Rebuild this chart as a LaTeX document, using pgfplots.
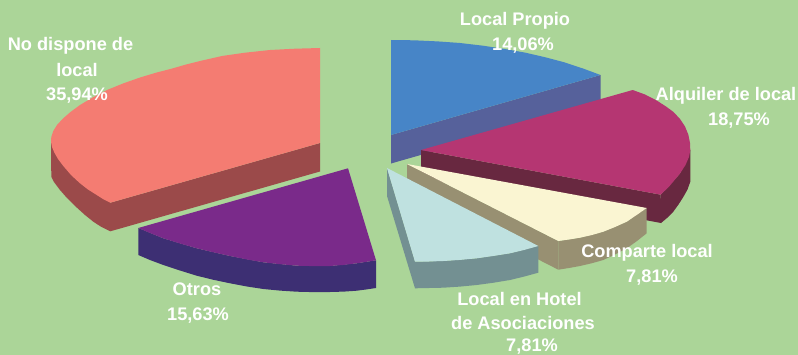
\documentclass[border=0pt]{standalone}
\usepackage{fontspec}
\setmainfont{Liberation Sans}
\usepackage{pgfplots}
\pgfplotsset{compat=1.18}
\definecolor{bg}{HTML}{ABD598}
\definecolor{salT}{HTML}{F47C72}
\definecolor{salS}{HTML}{9B4A4A}
\definecolor{bluT}{HTML}{4785C7}
\definecolor{bluS}{HTML}{56619B}
\definecolor{magT}{HTML}{B53672}
\definecolor{magS}{HTML}{682840}
\definecolor{creT}{HTML}{FAF5D2}
\definecolor{creS}{HTML}{989072}
\definecolor{teaT}{HTML}{BFE1E0}
\definecolor{teaS}{HTML}{739092}
\definecolor{purT}{HTML}{7A2A8A}
\definecolor{purS}{HTML}{3D2F73}
\tikzset{lab/.style={font=\fontsize{18.2bp}{20bp}\selectfont\bfseries,text=white,anchor=base,inner sep=0pt}}
\begin{document}
\begin{tikzpicture}
\path[use as bounding box] (0,0) rectangle (798bp,355bp);
\begin{axis}[at={(0,0)},anchor=south west,scale only axis,width=798bp,height=355bp,
  xmin=0,xmax=798,ymin=0,ymax=355,y dir=reverse,hide axis,clip=false,
  every axis plot/.append style={draw=none,mark=none}]
% background
\addplot[fill=bg] coordinates {(0,0)(798,0)(798,355)(0,355)} --cycle;
% No dispone de local
\addplot[fill=salS] coordinates {(320,143)(320,171.5)(110.3,231.3)(101,226.7)(93.3,221.7)(85,215)(76.7,207.5)(67,198)(60,190)(54,182)(51.3,176.7)(51,142)(110.3,202.7)} --cycle;
\addplot[fill=salT] coordinates {(320,143)(320,48)(295,48.7)(270,50)(245,52.7)(222,56)(200,61)(186,64.5)(173,68.3)(156,72.7)(140,77.5)(123,83.5)(107,90)(93,97.3)(80,105)(70.5,112)(63,118.5)(57,125)(53.3,131)(51.3,137)(51,142)(52,147)(54.3,152.5)(58,159)(63.3,166)(71,175)(80,183.3)(88,189.5)(96.7,195)(103,199)(110.3,202.7)} --cycle;
% Local Propio
\addplot[fill=bluS] coordinates {(391,135)(600.5,75)(600.5,103.5)(391,163.5)} --cycle;
\addplot[fill=bluT] coordinates {(391,135)(391,40)(414,40.3)(437.7,41.4)(460,43)(483,45.7)(505,49)(525.5,52.7)(545,57.2)(563.9,62.2)(583,68.5)(600.5,75)} --cycle;
% Alquiler de local
\addplot[fill=magS] coordinates {(421,150)(660.7,194.7)(661,223)(421,178)} --cycle;
\addplot[fill=magS] coordinates {(690.3,150)(680,173.5)(660.7,194.7)(661,223)(667,218)(673.3,211.7)(678.5,204.5)(683.3,197)(687.5,189.5)(690.3,181.7)} --cycle;
\addplot[fill=magT] coordinates {(421,150)(632.7,90)(645,94.5)(656.7,100.5)(666,106.5)(673.5,112)(680,119)(685,126.5)(688.3,134.5)(690,143)(690.3,150)(689,157)(685.5,165)(680,173.5)(675,179.5)(670,185.5)(665.5,190)(660.7,194.7)} --cycle;
% Comparte local
\addplot[fill=creS] coordinates {(407,164)(558.3,241)(558.3,269.7)(407,192.5)} --cycle;
\addplot[fill=creS] coordinates {(646.7,208)(626.7,221.7)(603.3,231.7)(580,237.7)(558.3,241)(558.3,269.7)(569,268)(580,266)(592,263.2)(603.3,260)(615,254.5)(626.7,248.3)(637,241)(646.7,233.3)} --cycle;
\addplot[fill=creT] coordinates {(407,164)(646.7,208)(637,214.8)(626.7,221.7)(615,227)(603.3,231.7)(592,235)(580,237.7)(569,239.5)(558.3,241)} --cycle;
% Local en Hotel de Asociaciones
\addplot[fill=teaS] coordinates {(387,168)(415,261.7)(415,288.3)(387,196)} --cycle;
\addplot[fill=teaS] coordinates {(538.3,246)(510,253.3)(476.7,258.3)(443.3,261)(415,261.7)(415,288.3)(443.3,287.7)(460,286.6)(476.7,285)(493,282.8)(510,280)(524,276.6)(538.3,272.7)} --cycle;
\addplot[fill=teaT] coordinates {(387,168)(538.3,246)(524,250)(510,253.3)(493,256)(476.7,258.3)(460,259.9)(443.3,261)(429,261.5)(415,261.7)} --cycle;
% Otros
\addplot[fill=purS] coordinates {(376,260.3)(356.7,263.3)(330,266)(296.7,265.7)(263.3,262.3)(230,256)(196.7,248.3)(163.3,238.3)(138.3,228)(138.3,255)(150,260)(163.3,265)(180,270.5)(196.7,275.7)(213,279.7)(230,283.3)(247,286.5)(263.3,289)(280,290.6)(296.7,291.7)(313,292.1)(330,292)(344,291.6)(356.7,290.7)(366,289.5)(376,288)} --cycle;
\addplot[fill=purT] coordinates {(348,168.3)(376,260.3)(366,261.9)(356.7,263.3)(344,264.9)(330,266)(313,266.1)(296.7,265.7)(280,264.2)(263.3,262.3)(247,259.5)(230,256)(213,252.2)(196.7,248.3)(180,243.5)(163.3,238.3)(150,233)(138.3,228)} --cycle;
% labels
\node[lab] at (axis cs:70.5,50.7) {No dispone de};
\node[lab] at (axis cs:77,76) {local};
\node[lab] at (axis cs:77,100.7) {35,94\%};
\node[lab] at (axis cs:515,25.7) {Local Propio};
\node[lab] at (axis cs:523,50.7) {14,06\%};
\node[lab] at (axis cs:726,100.7) {Alquiler de local};
\node[lab] at (axis cs:739,125.7) {18,75\%};
\node[lab] at (axis cs:647,257.7) {Comparte local};
\node[lab] at (axis cs:652,282.3) {7,81\%};
\node[lab] at (axis cs:519.5,305.7) {Local en Hotel};
\node[lab] at (axis cs:523,329) {de Asociaciones};
\node[lab] at (axis cs:532,351.5) {7,81\%};
\node[lab] at (axis cs:197,295) {Otros};
\node[lab] at (axis cs:198,320.7) {15,63\%};
\end{axis}
\end{tikzpicture}
\end{document}
